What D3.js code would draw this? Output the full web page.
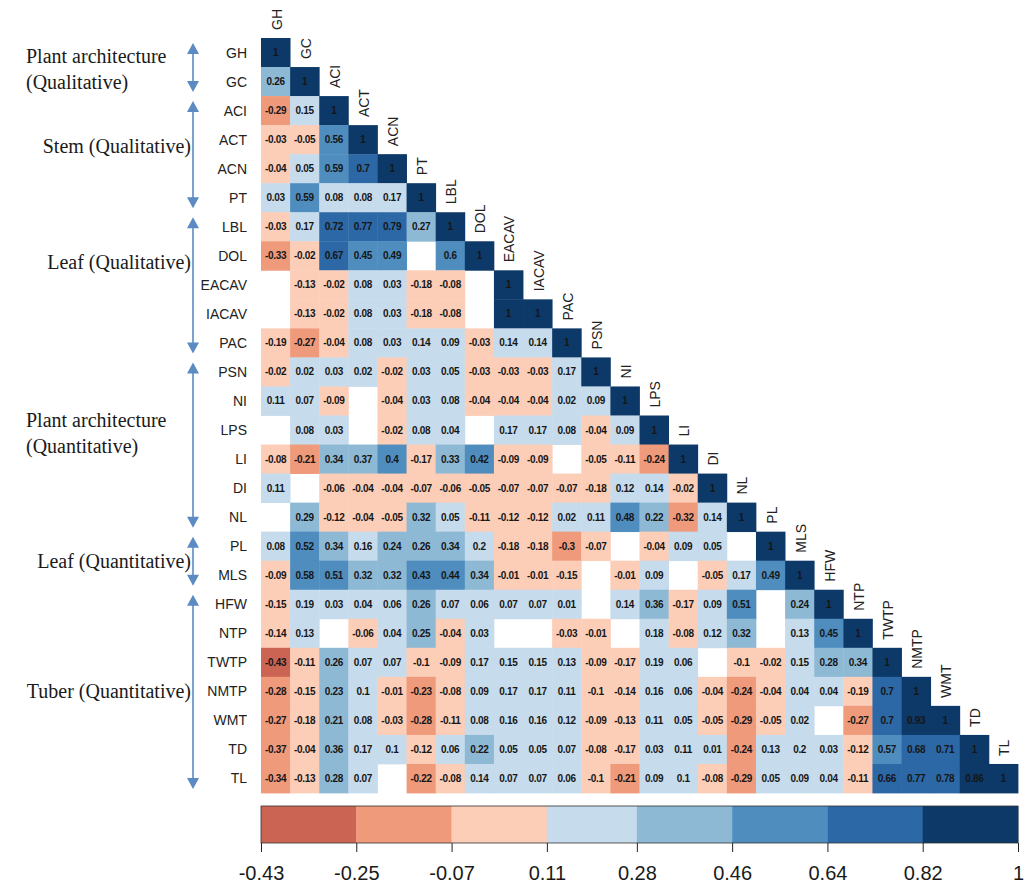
<!DOCTYPE html>
<html>
<head>
<meta charset="utf-8">
<script src="https://cdn.jsdelivr.net/npm/d3@7"></script>
<style>
  body { margin: 0; background: #fff; }
  svg { display: block; }
  .cell-txt { font: bold 10px "Liberation Sans", Arial, sans-serif; fill: #161616; letter-spacing: -0.3px; }
  .var-lab  { font: 14px "Liberation Sans", Arial, sans-serif; fill: #222; }
  .grp-lab  { font: 20px "Liberation Serif", "Times New Roman", serif; fill: #1a1a1a; }
  .leg-lab  { font: 20px "Liberation Sans", Arial, sans-serif; fill: #1a1a1a; }
</style>
</head>
<body>
<svg id="chart" width="1024" height="888"></svg>
<script>
// variables, in matrix order
const VARS = ["GH","GC","ACI","ACT","ACN","PT","LBL","DOL","EACAV","IACAV","PAC","PSN","NI",
              "LPS","LI","DI","NL","PL","MLS","HFW","NTP","TWTP","NMTP","WMT","TD","TL"];

// lower triangle, one row per variable (null = blank, not significant)
const CORR = [
  [1],
  [0.26, 1],
  [-0.29, 0.15, 1],
  [-0.03, -0.05, 0.56, 1],
  [-0.04, 0.05, 0.59, 0.7, 1],
  [0.03, 0.59, 0.08, 0.08, 0.17, 1],
  [-0.03, 0.17, 0.72, 0.77, 0.79, 0.27, 1],
  [-0.33, -0.02, 0.67, 0.45, 0.49, null, 0.6, 1],
  [null, -0.13, -0.02, 0.08, 0.03, -0.18, -0.08, null, 1],
  [null, -0.13, -0.02, 0.08, 0.03, -0.18, -0.08, null, 1, 1],
  [-0.19, -0.27, -0.04, 0.08, 0.03, 0.14, 0.09, -0.03, 0.14, 0.14, 1],
  [-0.02, 0.02, 0.03, 0.02, -0.02, 0.03, 0.05, -0.03, -0.03, -0.03, 0.17, 1],
  [0.11, 0.07, -0.09, null, -0.04, 0.03, 0.08, -0.04, -0.04, -0.04, 0.02, 0.09, 1],
  [null, 0.08, 0.03, null, -0.02, 0.08, 0.04, null, 0.17, 0.17, 0.08, -0.04, 0.09, 1],
  [-0.08, -0.21, 0.34, 0.37, 0.4, -0.17, 0.33, 0.42, -0.09, -0.09, null, -0.05, -0.11, -0.24, 1],
  [0.11, null, -0.06, -0.04, -0.04, -0.07, -0.06, -0.05, -0.07, -0.07, -0.07, -0.18, 0.12, 0.14, -0.02, 1],
  [null, 0.29, -0.12, -0.04, -0.05, 0.32, 0.05, -0.11, -0.12, -0.12, 0.02, 0.11, 0.48, 0.22, -0.32, 0.14, 1],
  [0.08, 0.52, 0.34, 0.16, 0.24, 0.26, 0.34, 0.2, -0.18, -0.18, -0.3, -0.07, null, -0.04, 0.09, 0.05, null, 1],
  [-0.09, 0.58, 0.51, 0.32, 0.32, 0.43, 0.44, 0.34, -0.01, -0.01, -0.15, null, -0.01, 0.09, null, -0.05, 0.17, 0.49, 1],
  [-0.15, 0.19, 0.03, 0.04, 0.06, 0.26, 0.07, 0.06, 0.07, 0.07, 0.01, null, 0.14, 0.36, -0.17, 0.09, 0.51, null, 0.24, 1],
  [-0.14, 0.13, null, -0.06, 0.04, 0.25, -0.04, 0.03, null, null, -0.03, -0.01, null, 0.18, -0.08, 0.12, 0.32, null, 0.13, 0.45, 1],
  [-0.43, -0.11, 0.26, 0.07, 0.07, -0.1, -0.09, 0.17, 0.15, 0.15, 0.13, -0.09, -0.17, 0.19, 0.06, null, -0.1, -0.02, 0.15, 0.28, 0.34, 1],
  [-0.28, -0.15, 0.23, 0.1, -0.01, -0.23, -0.08, 0.09, 0.17, 0.17, 0.11, -0.1, -0.14, 0.16, 0.06, -0.04, -0.24, -0.04, 0.04, 0.04, -0.19, 0.7, 1],
  [-0.27, -0.18, 0.21, 0.08, -0.03, -0.28, -0.11, 0.08, 0.16, 0.16, 0.12, -0.09, -0.13, 0.11, 0.05, -0.05, -0.29, -0.05, 0.02, null, -0.27, 0.7, 0.93, 1],
  [-0.37, -0.04, 0.36, 0.17, 0.1, -0.12, 0.06, 0.22, 0.05, 0.05, 0.07, -0.08, -0.17, 0.03, 0.11, 0.01, -0.24, 0.13, 0.2, 0.03, -0.12, 0.57, 0.68, 0.71, 1],
  [-0.34, -0.13, 0.28, 0.07, null, -0.22, -0.08, 0.14, 0.07, 0.07, 0.06, -0.1, -0.21, 0.09, 0.1, -0.08, -0.29, 0.05, 0.09, 0.04, -0.11, 0.66, 0.77, 0.78, 0.86, 1]
];

// colour key
const LEGEND_TICKS  = [-0.43, -0.25, -0.07, 0.11, 0.28, 0.46, 0.64, 0.82, 1];
const LEGEND_COLORS = ["#CC6453","#EF9A7B","#FCCDB7","#C6DBEB","#8EB9D5","#4E8DBE","#2C68A5","#0D3968"];
// the cells themselves are coloured on 0.2-wide classes
const CELL_BREAKS   = [-0.4, -0.2, 0, 0.205, 0.395, 0.605, 0.8];

// trait groups down the left side: label lines, first/last variable, row the label sits beside
const GROUPS = [
  {lines: ["Plant architecture", "(Qualitative)"],  from: "GH",  to: "GC",  at: 0.57},
  {lines: ["Stem (Qualitative)"],                   from: "ACI", to: "PT",  at: 3.22},
  {lines: ["Leaf (Qualitative)"],                   from: "LBL", to: "PAC", at: 7.22},
  {lines: ["Plant architecture", "(Quantitative)"], from: "PSN", to: "NL",  at: 13.1},
  {lines: ["Leaf (Quantitative)"],                  from: "PL",  to: "MLS", at: 17.5},
  {lines: ["Tuber (Quantitative)"],                 from: "HFW", to: "TL",  at: 22.0}
];

const svg = d3.select("#chart");

// SCALES
const x = d3.scaleBand().domain(VARS).range([261, 1018]);
const y = d3.scaleBand().domain(VARS).range([38, 793]);
const fill = d3.scaleThreshold().domain(CELL_BREAKS).range(LEGEND_COLORS);

const cells = [];
CORR.forEach((row, i) => row.forEach((v, j) => {
  if (v !== null) cells.push({r: VARS[i], c: VARS[j], v});
}));

// cells
const g = svg.append("g");
g.selectAll("rect").data(cells).join("rect")
    .attr("x", d => x(d.c))
    .attr("y", d => y(d.r))
    .attr("width", x.bandwidth() + 0.4)
    .attr("height", y.bandwidth() + 0.4)
    .attr("fill", d => fill(d.v));

g.selectAll("text").data(cells).join("text")
    .attr("class", "cell-txt")
    .attr("x", d => x(d.c) + x.bandwidth() / 2)
    .attr("y", d => y(d.r) + y.bandwidth() / 2)
    .attr("text-anchor", "middle")
    .attr("dominant-baseline", "central")
    .text(d => String(d.v));

// row labels
svg.append("g").selectAll("text").data(VARS).join("text")
    .attr("class", "var-lab")
    .attr("x", 247)
    .attr("y", d => y(d) + y.bandwidth() / 2)
    .attr("text-anchor", "end")
    .attr("dominant-baseline", "central")
    .text(d => d);

// column labels, rotated, above each diagonal cell
svg.append("g").selectAll("text").data(VARS).join("text")
    .attr("class", "var-lab")
    .attr("transform", d => `translate(${x(d) + x.bandwidth() / 2 + 1},${y(d) - 8}) rotate(-90)`)
    .attr("dominant-baseline", "central")
    .text(d => d);

// group arrows + labels
const ARROW_X = 193, ARROW_COL = "#5B8BC2";
const ag = svg.append("g");
GROUPS.forEach(gr => {
  const y0 = y(gr.from) + 5, y1 = y(gr.to) + y.bandwidth() - 4;
  ag.append("line").attr("x1", ARROW_X).attr("x2", ARROW_X)
      .attr("y1", y0 + 8).attr("y2", y1 - 8)
      .attr("stroke", ARROW_COL).attr("stroke-width", 1.6);
  ag.append("path").attr("fill", ARROW_COL)
      .attr("d", `M${ARROW_X},${y0} L${ARROW_X - 6},${y0 + 11} L${ARROW_X + 6},${y0 + 11} Z`);
  ag.append("path").attr("fill", ARROW_COL)
      .attr("d", `M${ARROW_X},${y1} L${ARROW_X - 6},${y1 - 11} L${ARROW_X + 6},${y1 - 11} Z`);

  const cy = y.range()[0] + (gr.at + 0.5) * y.step();
  const two = gr.lines.length > 1;
  const t = ag.append("text").attr("class", "grp-lab")
      .attr("text-anchor", two ? "start" : "end")
      .attr("x", two ? 26 : 191);
  gr.lines.forEach((ln, k) => {
    t.append("tspan")
        .attr("x", two ? 26 : 191)
        .attr("y", cy + 7 + (k - (gr.lines.length - 1) / 2) * 26)
        .text(ln);
  });
});

// colour key
const lx = d3.scaleLinear().domain([LEGEND_TICKS[0], LEGEND_TICKS[LEGEND_TICKS.length - 1]]).range([261, 1018]);
const leg = svg.append("g");
const LEG_TOP = 806, LEG_H = 37;
leg.selectAll("rect").data(LEGEND_COLORS).join("rect")
    .attr("x", (c, i) => lx(LEGEND_TICKS[i]))
    .attr("y", LEG_TOP)
    .attr("width", (c, i) => lx(LEGEND_TICKS[i + 1]) - lx(LEGEND_TICKS[i]) + 0.3)
    .attr("height", LEG_H)
    .attr("fill", c => c);
leg.append("rect").attr("x", lx.range()[0]).attr("y", LEG_TOP)
    .attr("width", lx.range()[1] - lx.range()[0]).attr("height", LEG_H)
    .attr("fill", "none").attr("stroke", "#333").attr("stroke-width", 0.8);

// plain hyphen for the minus sign, as in the original key
const fmtKey = d => d === 1 ? "1" : d3.format(".2f")(d).replace("\u2212", "-");
const axis = d3.axisBottom(lx).tickValues(LEGEND_TICKS)
    .tickFormat(fmtKey)
    .tickSize(9).tickPadding(14);
const ax = leg.append("g").attr("transform", `translate(0,${LEG_TOP + LEG_H})`).call(axis);
ax.select(".domain").remove();
ax.selectAll("line").attr("stroke", "#222");
ax.selectAll("text").attr("class", "leg-lab").attr("fill", null);
</script>
</body>
</html>
